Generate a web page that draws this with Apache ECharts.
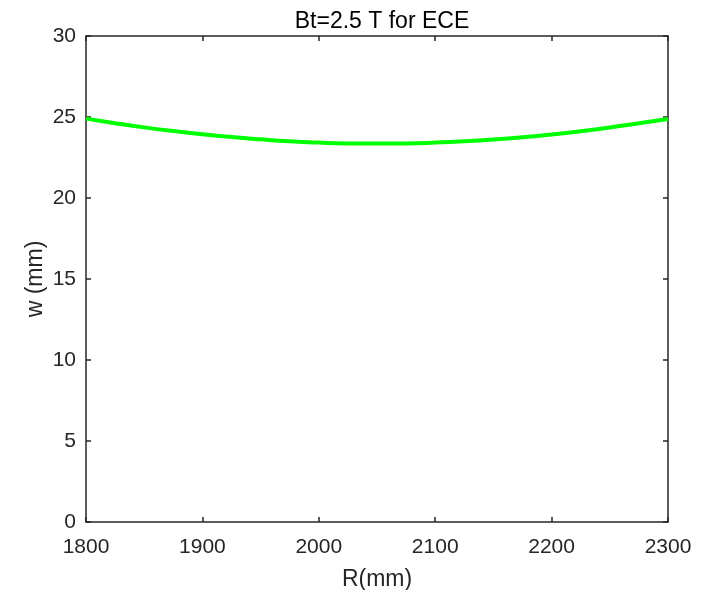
<!DOCTYPE html>
<html>
<head>
<meta charset="utf-8">
<script src="https://cdn.jsdelivr.net/npm/echarts@6/dist/echarts.min.js"></script>
<style>
html,body{margin:0;padding:0;background:#fff;}
#c{width:711px;height:590px;}
</style>
</head>
<body>
<div id="c"></div>
<script>
const titleText = 'Bt=2.5 T for ECE';
const xName = 'R(mm)';
const yName = 'w (mm)';
const R = [1800,1825,1850,1875,1900,1925,1950,1975,2000,2025,2050,2075,2100,2125,2150,2175,2200,2225,2250,2275,2300];
const W = [24.90,24.62,24.36,24.13,23.93,23.76,23.62,23.50,23.42,23.37,23.36,23.37,23.42,23.50,23.61,23.75,23.92,24.12,24.35,24.61,24.88];
const xTicks = [1800,1900,2000,2100,2200,2300];
const yTicks = [0,5,10,15,20,25,30];

const font = 'Liberation Sans, Arial, Helvetica, sans-serif';
const axisCol = '#262626';
const chart = echarts.init(document.getElementById('c'));
const tickStyle = {show:true, inside:true, length:5, lineStyle:{color:axisCol, width:1.5}};
const lineStyle = {show:true, onZero:false, lineStyle:{color:axisCol, width:1.5}};
chart.setOption({
  animation:false,
  backgroundColor:'#fff',
  title:{text:titleText, left:377, top:5, textAlign:'center',
    textStyle:{fontFamily:font, fontSize:23, fontWeight:'normal', color:'#000'}},
  grid:{left:86, right:43, top:36, bottom:68, containLabel:false, outerBoundsMode:'none'},
  xAxis:[{
    type:'value', min:xTicks[0], max:xTicks[xTicks.length-1], interval:100,
    name:xName, nameLocation:'middle', nameGap:46,
    nameTextStyle:{fontFamily:font, fontSize:23, color:'#262626'},
    axisLine:lineStyle, axisTick:tickStyle, splitLine:{show:false},
    axisLabel:{fontFamily:font, fontSize:21, color:'#262626', margin:15, formatter:v=>String(v)}
  },{
    type:'value', position:'top', min:xTicks[0], max:xTicks[xTicks.length-1], interval:100,
    axisLine:lineStyle, axisTick:tickStyle, splitLine:{show:false}, axisLabel:{show:false}
  }],
  yAxis:[{
    type:'value', min:yTicks[0], max:yTicks[yTicks.length-1], interval:5,
    name:yName, nameLocation:'middle', nameGap:39, nameMoveOverlap:false,
    nameTextStyle:{fontFamily:font, fontSize:23, color:'#262626'},
    axisLine:lineStyle, axisTick:tickStyle, splitLine:{show:false},
    axisLabel:{fontFamily:font, fontSize:21, color:'#262626', margin:10, formatter:v=>String(v)}
  },{
    type:'value', position:'right', min:yTicks[0], max:yTicks[yTicks.length-1], interval:5,
    axisLine:lineStyle, axisTick:tickStyle, splitLine:{show:false}, axisLabel:{show:false}
  }],
  series:[{
    type:'line', data:R.map((r,i)=>[r,W[i]]), smooth:true, showSymbol:false,
    lineStyle:{color:'#00ff00', width:4}, itemStyle:{color:'#00ff00'}
  }]
});
</script>
</body>
</html>
